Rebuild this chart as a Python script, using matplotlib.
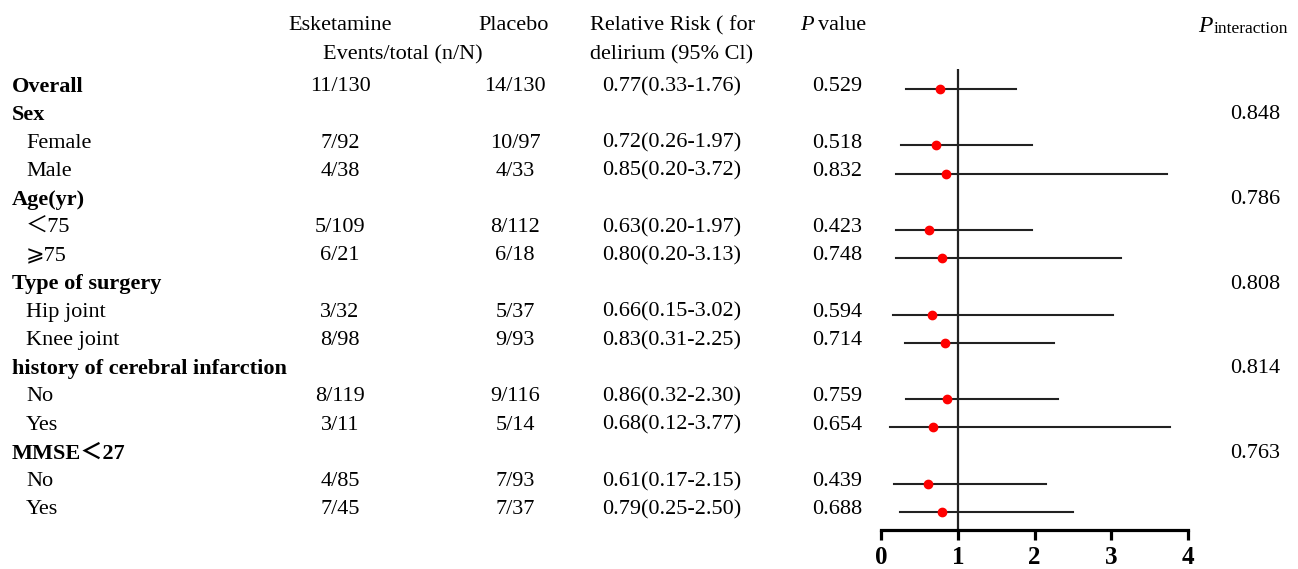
import matplotlib.pyplot as plt
import matplotlib.transforms as mtransforms

plt.rcParams['font.family'] = ['Liberation Serif', 'Noto Sans CJK SC', 'DejaVu Sans']

labels = ["Overall", "Sex", "Female", "Male", "Age(yr)", "＜75", "⩾75",
          "Type of surgery", "Hip joint", "Knee joint",
          "history of cerebral infarction", "No", "Yes", "MMSE＜27", "No", "Yes"]
is_header = [True, True, False, False, True, False, False, True, False, False,
             True, False, False, True, False, False]
esketamine = ["11/130", "", "7/92", "4/38", "", "5/109", "6/21", "", "3/32", "8/98",
              "", "8/119", "3/11", "", "4/85", "7/45"]
placebo = ["14/130", "", "10/97", "4/33", "", "8/112", "6/18", "", "5/37", "9/93",
           "", "9/116", "5/14", "", "7/93", "7/37"]
rr = [0.77, None, 0.72, 0.85, None, 0.63, 0.80, None, 0.66, 0.83,
      None, 0.86, 0.68, None, 0.61, 0.79]
ci_low = [0.33, None, 0.26, 0.20, None, 0.20, 0.20, None, 0.15, 0.31,
          None, 0.32, 0.12, None, 0.17, 0.25]
ci_high = [1.76, None, 1.97, 3.72, None, 1.97, 3.13, None, 3.02, 2.25,
           None, 2.30, 3.77, None, 2.15, 2.50]
p_value = ["0.529", "", "0.518", "0.832", "", "0.423", "0.748", "", "0.594", "0.714",
           "", "0.759", "0.654", "", "0.439", "0.688"]
p_interaction = ["", "0.848", "", "", "0.786", "", "", "0.808", "", "",
                 "0.814", "", "", "0.763", "", ""]

W, H = 1298, 569
FS = 16
ROW = 28.2

fig = plt.figure(figsize=(W / 100, H / 100), dpi=100)
# forest axes: x 0..4 spans pixels 881..1188, y spans 69..530
ax = fig.add_axes([881 / W, (H - 530) / H, 307 / W, 461 / H])
ax.set_xlim(0, 4)
ax.set_ylim((530 - 89) / ROW, (69 - 89) / ROW)

for i in range(len(labels)):
    if rr[i] is not None:
        ax.plot([ci_low[i], ci_high[i]], [i, i], color="#222222", lw=1.5, zorder=2)
        ax.plot(rr[i], i, "o", color="red", ms=6, zorder=3)
ax.axvline(1, color="#222222", lw=1.6, zorder=1)

for s in ["left", "right", "top"]:
    ax.spines[s].set_visible(False)
ax.spines["bottom"].set_linewidth(2.3)
ax.set_yticks([])
ax.set_xticks([0, 1, 2, 3, 4])
ax.tick_params(axis="x", length=7.5, width=2.3, labelsize=18, pad=4)
for t in ax.get_xticklabels():
    t.set_fontweight("bold")

# text columns: x in figure pixels, y in row units
tr = mtransforms.blended_transform_factory(fig.transFigure, ax.transData)
DY = -0.08


def fx(px):
    return px / W


for i, lab in enumerate(labels):
    y = i + DY
    if is_header[i]:
        ax.text(fx(12), y, lab, transform=tr, fontsize=FS, fontweight="bold",
                va="center", ha="left")
    else:
        ax.text(fx(26), y, lab, transform=tr, fontsize=FS, va="center", ha="left")
    ax.text(fx(340), y, esketamine[i], transform=tr, fontsize=FS, va="center", ha="center")
    ax.text(fx(515), y, placebo[i], transform=tr, fontsize=FS, va="center", ha="center")
    if rr[i] is not None:
        txt = f"{rr[i]:.2f}({ci_low[i]:.2f}-{ci_high[i]:.2f})"
        ax.text(fx(672), y, txt, transform=tr, fontsize=FS, va="center", ha="center")
    ax.text(fx(837), y, p_value[i], transform=tr, fontsize=FS, va="center", ha="center")
    ax.text(fx(1255), y, p_interaction[i], transform=tr, fontsize=FS, va="center", ha="center")

# header
hy1 = 1 - 26 / H
hy2 = 1 - 55 / H
fig.text(fx(340), hy1, "Esketamine", fontsize=FS, ha="center", va="center")
fig.text(fx(514), hy1, "Placebo", fontsize=FS, ha="center", va="center")
fig.text(fx(403), hy2, "Events/total (n/N)", fontsize=FS, ha="center", va="center")
fig.text(fx(672), hy1, "Relative Risk ( for", fontsize=FS, ha="center", va="center")
fig.text(fx(672), hy2, "delirium (95% Cl)", fontsize=FS, ha="center", va="center")
fig.text(fx(800), hy1, "P", fontsize=FS, style="italic", ha="left", va="center")
fig.text(fx(818), hy1, "value", fontsize=FS, ha="left", va="center")
fig.text(fx(1198), hy1, "P", fontsize=FS + 1, style="italic", ha="left", va="center")
fig.text(fx(1214), 1 - 29 / H, "interaction", fontsize=12.5, ha="left", va="center")

fig.savefig("out.png", dpi=100)
